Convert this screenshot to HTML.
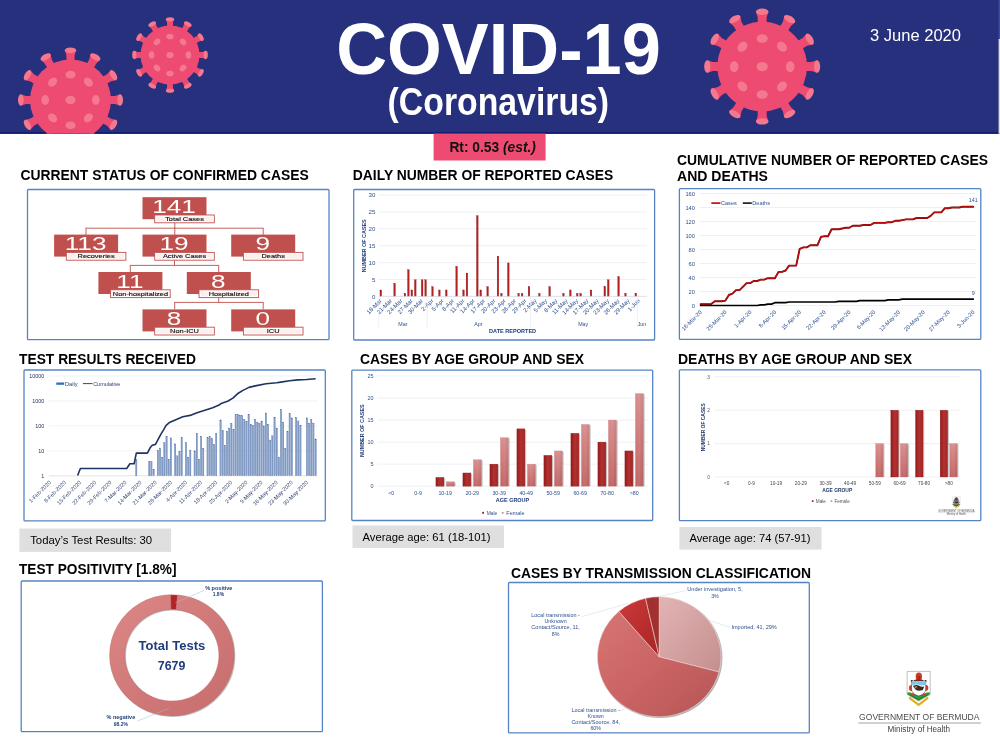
<!DOCTYPE html>
<html lang="en"><head><meta charset="utf-8"><title>COVID-19 (Coronavirus) - 3 June 2020</title>
<style>
html,body{margin:0;padding:0;background:#fff;}
body{width:1000px;height:750px;overflow:hidden;font-family:"Liberation Sans",sans-serif;}
svg{display:block;font-family:"Liberation Sans",sans-serif;}
</style></head><body>
<svg width="1000" height="750" viewBox="0 0 1000 750">
<defs>
<linearGradient id="gm" x1="0" x2="1" y1="0" y2="0"><stop offset="0" stop-color="#941c1c"/><stop offset="0.5" stop-color="#b43030"/><stop offset="1" stop-color="#a02727"/></linearGradient>
<linearGradient id="gf" x1="0" x2="0" y1="0" y2="1"><stop offset="0" stop-color="#d88c8c"/><stop offset="1" stop-color="#c26363"/></linearGradient>
<linearGradient id="gf2" x1="0" x2="1" y1="0" y2="0"><stop offset="0" stop-color="#ffffff" stop-opacity="0"/><stop offset="0.5" stop-color="#ffffff" stop-opacity="0.06"/><stop offset="1" stop-color="#000" stop-opacity="0.06"/></linearGradient>
<linearGradient id="gring" x1="0" x2="1" y1="0" y2="1"><stop offset="0" stop-color="#dc8787"/><stop offset="1" stop-color="#c66c6c"/></linearGradient>
<linearGradient id="gknown" x1="0" x2="1" y1="0" y2="1"><stop offset="0" stop-color="#d67575"/><stop offset="0.5" stop-color="#cb6464"/><stop offset="1" stop-color="#b45656"/></linearGradient>
<linearGradient id="gimp" x1="0" x2="1" y1="0" y2="1"><stop offset="0" stop-color="#e3b4b4"/><stop offset="1" stop-color="#c48e8e"/></linearGradient>
<linearGradient id="gunk" x1="0" x2="1" y1="0" y2="1"><stop offset="0" stop-color="#cc3a3a"/><stop offset="1" stop-color="#a82424"/></linearGradient>
</defs>
<rect x="0.00" y="0.00" width="1000.00" height="133.80" fill="#27307c" stroke="none" stroke-width="1" />
<rect x="0.00" y="132.10" width="1000.00" height="1.70" fill="#121d70" stroke="none" stroke-width="1" />
<rect x="998.60" y="0.00" width="1.40" height="39.00" fill="#3d4c9c" stroke="none" stroke-width="1" />
<rect x="998.60" y="39.00" width="1.40" height="94.80" fill="#dcdde8" stroke="none" stroke-width="1" />
<clipPath id="hclip"><rect x="0" y="0" width="1000" height="133.8"/></clipPath>
<g clip-path="url(#hclip)">
<g transform="translate(70.5,100)">
<g transform="rotate(0)">
<path d="M-4.05,-38.50 L-4.05,-44.55 L-5.67,-49.66 L5.67,-49.66 L4.05,-44.55 L4.05,-38.50Z" fill="#ee4b72"/>
<ellipse cx="0" cy="-49.66" rx="5.67" ry="2.84" fill="#f4798e"/>
</g>
<g transform="rotate(30)">
<path d="M-4.05,-38.50 L-4.05,-44.55 L-5.67,-49.66 L5.67,-49.66 L4.05,-44.55 L4.05,-38.50Z" fill="#ee4b72"/>
<ellipse cx="0" cy="-49.66" rx="5.67" ry="2.84" fill="#f4798e"/>
</g>
<g transform="rotate(60)">
<path d="M-4.05,-38.50 L-4.05,-44.55 L-5.67,-49.66 L5.67,-49.66 L4.05,-44.55 L4.05,-38.50Z" fill="#ee4b72"/>
<ellipse cx="0" cy="-49.66" rx="5.67" ry="2.84" fill="#f4798e"/>
</g>
<g transform="rotate(90)">
<path d="M-4.05,-38.50 L-4.05,-44.55 L-5.67,-49.66 L5.67,-49.66 L4.05,-44.55 L4.05,-38.50Z" fill="#ee4b72"/>
<ellipse cx="0" cy="-49.66" rx="5.67" ry="2.84" fill="#f4798e"/>
</g>
<g transform="rotate(120)">
<path d="M-4.05,-38.50 L-4.05,-44.55 L-5.67,-49.66 L5.67,-49.66 L4.05,-44.55 L4.05,-38.50Z" fill="#ee4b72"/>
<ellipse cx="0" cy="-49.66" rx="5.67" ry="2.84" fill="#f4798e"/>
</g>
<g transform="rotate(150)">
<path d="M-4.05,-38.50 L-4.05,-44.55 L-5.67,-49.66 L5.67,-49.66 L4.05,-44.55 L4.05,-38.50Z" fill="#ee4b72"/>
<ellipse cx="0" cy="-49.66" rx="5.67" ry="2.84" fill="#f4798e"/>
</g>
<g transform="rotate(180)">
<path d="M-4.05,-38.50 L-4.05,-44.55 L-5.67,-49.66 L5.67,-49.66 L4.05,-44.55 L4.05,-38.50Z" fill="#ee4b72"/>
<ellipse cx="0" cy="-49.66" rx="5.67" ry="2.84" fill="#f4798e"/>
</g>
<g transform="rotate(210)">
<path d="M-4.05,-38.50 L-4.05,-44.55 L-5.67,-49.66 L5.67,-49.66 L4.05,-44.55 L4.05,-38.50Z" fill="#ee4b72"/>
<ellipse cx="0" cy="-49.66" rx="5.67" ry="2.84" fill="#f4798e"/>
</g>
<g transform="rotate(240)">
<path d="M-4.05,-38.50 L-4.05,-44.55 L-5.67,-49.66 L5.67,-49.66 L4.05,-44.55 L4.05,-38.50Z" fill="#ee4b72"/>
<ellipse cx="0" cy="-49.66" rx="5.67" ry="2.84" fill="#f4798e"/>
</g>
<g transform="rotate(270)">
<path d="M-4.05,-38.50 L-4.05,-44.55 L-5.67,-49.66 L5.67,-49.66 L4.05,-44.55 L4.05,-38.50Z" fill="#ee4b72"/>
<ellipse cx="0" cy="-49.66" rx="5.67" ry="2.84" fill="#f4798e"/>
</g>
<g transform="rotate(300)">
<path d="M-4.05,-38.50 L-4.05,-44.55 L-5.67,-49.66 L5.67,-49.66 L4.05,-44.55 L4.05,-38.50Z" fill="#ee4b72"/>
<ellipse cx="0" cy="-49.66" rx="5.67" ry="2.84" fill="#f4798e"/>
</g>
<g transform="rotate(330)">
<path d="M-4.05,-38.50 L-4.05,-44.55 L-5.67,-49.66 L5.67,-49.66 L4.05,-44.55 L4.05,-38.50Z" fill="#ee4b72"/>
<ellipse cx="0" cy="-49.66" rx="5.67" ry="2.84" fill="#f4798e"/>
</g>
<circle r="40.5" fill="#ee4b72"/>
<ellipse rx="5.06" ry="4.25" fill="#f4798e"/>
<ellipse transform="rotate(0)" cx="0" cy="-25.31" rx="5.06" ry="3.85" fill="#f4798e"/>
<ellipse transform="rotate(45)" cx="0" cy="-25.31" rx="5.06" ry="3.85" fill="#f4798e"/>
<ellipse transform="rotate(90)" cx="0" cy="-25.31" rx="5.06" ry="3.85" fill="#f4798e"/>
<ellipse transform="rotate(135)" cx="0" cy="-25.31" rx="5.06" ry="3.85" fill="#f4798e"/>
<ellipse transform="rotate(180)" cx="0" cy="-25.31" rx="5.06" ry="3.85" fill="#f4798e"/>
<ellipse transform="rotate(225)" cx="0" cy="-25.31" rx="5.06" ry="3.85" fill="#f4798e"/>
<ellipse transform="rotate(270)" cx="0" cy="-25.31" rx="5.06" ry="3.85" fill="#f4798e"/>
<ellipse transform="rotate(315)" cx="0" cy="-25.31" rx="5.06" ry="3.85" fill="#f4798e"/>
</g>
<g transform="translate(170,55)">
<g transform="rotate(0)">
<path d="M-2.95,-27.50 L-2.95,-32.45 L-4.13,-35.73 L4.13,-35.73 L2.95,-32.45 L2.95,-27.50Z" fill="#ee4b72"/>
<ellipse cx="0" cy="-35.73" rx="4.13" ry="2.07" fill="#f4798e"/>
</g>
<g transform="rotate(30)">
<path d="M-2.95,-27.50 L-2.95,-32.45 L-4.13,-35.73 L4.13,-35.73 L2.95,-32.45 L2.95,-27.50Z" fill="#ee4b72"/>
<ellipse cx="0" cy="-35.73" rx="4.13" ry="2.07" fill="#f4798e"/>
</g>
<g transform="rotate(60)">
<path d="M-2.95,-27.50 L-2.95,-32.45 L-4.13,-35.73 L4.13,-35.73 L2.95,-32.45 L2.95,-27.50Z" fill="#ee4b72"/>
<ellipse cx="0" cy="-35.73" rx="4.13" ry="2.07" fill="#f4798e"/>
</g>
<g transform="rotate(90)">
<path d="M-2.95,-27.50 L-2.95,-32.45 L-4.13,-35.73 L4.13,-35.73 L2.95,-32.45 L2.95,-27.50Z" fill="#ee4b72"/>
<ellipse cx="0" cy="-35.73" rx="4.13" ry="2.07" fill="#f4798e"/>
</g>
<g transform="rotate(120)">
<path d="M-2.95,-27.50 L-2.95,-32.45 L-4.13,-35.73 L4.13,-35.73 L2.95,-32.45 L2.95,-27.50Z" fill="#ee4b72"/>
<ellipse cx="0" cy="-35.73" rx="4.13" ry="2.07" fill="#f4798e"/>
</g>
<g transform="rotate(150)">
<path d="M-2.95,-27.50 L-2.95,-32.45 L-4.13,-35.73 L4.13,-35.73 L2.95,-32.45 L2.95,-27.50Z" fill="#ee4b72"/>
<ellipse cx="0" cy="-35.73" rx="4.13" ry="2.07" fill="#f4798e"/>
</g>
<g transform="rotate(180)">
<path d="M-2.95,-27.50 L-2.95,-32.45 L-4.13,-35.73 L4.13,-35.73 L2.95,-32.45 L2.95,-27.50Z" fill="#ee4b72"/>
<ellipse cx="0" cy="-35.73" rx="4.13" ry="2.07" fill="#f4798e"/>
</g>
<g transform="rotate(210)">
<path d="M-2.95,-27.50 L-2.95,-32.45 L-4.13,-35.73 L4.13,-35.73 L2.95,-32.45 L2.95,-27.50Z" fill="#ee4b72"/>
<ellipse cx="0" cy="-35.73" rx="4.13" ry="2.07" fill="#f4798e"/>
</g>
<g transform="rotate(240)">
<path d="M-2.95,-27.50 L-2.95,-32.45 L-4.13,-35.73 L4.13,-35.73 L2.95,-32.45 L2.95,-27.50Z" fill="#ee4b72"/>
<ellipse cx="0" cy="-35.73" rx="4.13" ry="2.07" fill="#f4798e"/>
</g>
<g transform="rotate(270)">
<path d="M-2.95,-27.50 L-2.95,-32.45 L-4.13,-35.73 L4.13,-35.73 L2.95,-32.45 L2.95,-27.50Z" fill="#ee4b72"/>
<ellipse cx="0" cy="-35.73" rx="4.13" ry="2.07" fill="#f4798e"/>
</g>
<g transform="rotate(300)">
<path d="M-2.95,-27.50 L-2.95,-32.45 L-4.13,-35.73 L4.13,-35.73 L2.95,-32.45 L2.95,-27.50Z" fill="#ee4b72"/>
<ellipse cx="0" cy="-35.73" rx="4.13" ry="2.07" fill="#f4798e"/>
</g>
<g transform="rotate(330)">
<path d="M-2.95,-27.50 L-2.95,-32.45 L-4.13,-35.73 L4.13,-35.73 L2.95,-32.45 L2.95,-27.50Z" fill="#ee4b72"/>
<ellipse cx="0" cy="-35.73" rx="4.13" ry="2.07" fill="#f4798e"/>
</g>
<circle r="29.5" fill="#ee4b72"/>
<ellipse rx="3.69" ry="3.10" fill="#f4798e"/>
<ellipse transform="rotate(0)" cx="0" cy="-18.44" rx="3.69" ry="2.80" fill="#f4798e"/>
<ellipse transform="rotate(45)" cx="0" cy="-18.44" rx="3.69" ry="2.80" fill="#f4798e"/>
<ellipse transform="rotate(90)" cx="0" cy="-18.44" rx="3.69" ry="2.80" fill="#f4798e"/>
<ellipse transform="rotate(135)" cx="0" cy="-18.44" rx="3.69" ry="2.80" fill="#f4798e"/>
<ellipse transform="rotate(180)" cx="0" cy="-18.44" rx="3.69" ry="2.80" fill="#f4798e"/>
<ellipse transform="rotate(225)" cx="0" cy="-18.44" rx="3.69" ry="2.80" fill="#f4798e"/>
<ellipse transform="rotate(270)" cx="0" cy="-18.44" rx="3.69" ry="2.80" fill="#f4798e"/>
<ellipse transform="rotate(315)" cx="0" cy="-18.44" rx="3.69" ry="2.80" fill="#f4798e"/>
</g>
<g transform="translate(762.2,66.6)">
<g transform="rotate(0)">
<path d="M-4.48,-42.80 L-4.48,-49.28 L-6.27,-54.86 L6.27,-54.86 L4.48,-49.28 L4.48,-42.80Z" fill="#ee4b72"/>
<ellipse cx="0" cy="-54.86" rx="6.27" ry="3.14" fill="#f4798e"/>
</g>
<g transform="rotate(30)">
<path d="M-4.48,-42.80 L-4.48,-49.28 L-6.27,-54.86 L6.27,-54.86 L4.48,-49.28 L4.48,-42.80Z" fill="#ee4b72"/>
<ellipse cx="0" cy="-54.86" rx="6.27" ry="3.14" fill="#f4798e"/>
</g>
<g transform="rotate(60)">
<path d="M-4.48,-42.80 L-4.48,-49.28 L-6.27,-54.86 L6.27,-54.86 L4.48,-49.28 L4.48,-42.80Z" fill="#ee4b72"/>
<ellipse cx="0" cy="-54.86" rx="6.27" ry="3.14" fill="#f4798e"/>
</g>
<g transform="rotate(90)">
<path d="M-4.48,-42.80 L-4.48,-49.28 L-6.27,-54.86 L6.27,-54.86 L4.48,-49.28 L4.48,-42.80Z" fill="#ee4b72"/>
<ellipse cx="0" cy="-54.86" rx="6.27" ry="3.14" fill="#f4798e"/>
</g>
<g transform="rotate(120)">
<path d="M-4.48,-42.80 L-4.48,-49.28 L-6.27,-54.86 L6.27,-54.86 L4.48,-49.28 L4.48,-42.80Z" fill="#ee4b72"/>
<ellipse cx="0" cy="-54.86" rx="6.27" ry="3.14" fill="#f4798e"/>
</g>
<g transform="rotate(150)">
<path d="M-4.48,-42.80 L-4.48,-49.28 L-6.27,-54.86 L6.27,-54.86 L4.48,-49.28 L4.48,-42.80Z" fill="#ee4b72"/>
<ellipse cx="0" cy="-54.86" rx="6.27" ry="3.14" fill="#f4798e"/>
</g>
<g transform="rotate(180)">
<path d="M-4.48,-42.80 L-4.48,-49.28 L-6.27,-54.86 L6.27,-54.86 L4.48,-49.28 L4.48,-42.80Z" fill="#ee4b72"/>
<ellipse cx="0" cy="-54.86" rx="6.27" ry="3.14" fill="#f4798e"/>
</g>
<g transform="rotate(210)">
<path d="M-4.48,-42.80 L-4.48,-49.28 L-6.27,-54.86 L6.27,-54.86 L4.48,-49.28 L4.48,-42.80Z" fill="#ee4b72"/>
<ellipse cx="0" cy="-54.86" rx="6.27" ry="3.14" fill="#f4798e"/>
</g>
<g transform="rotate(240)">
<path d="M-4.48,-42.80 L-4.48,-49.28 L-6.27,-54.86 L6.27,-54.86 L4.48,-49.28 L4.48,-42.80Z" fill="#ee4b72"/>
<ellipse cx="0" cy="-54.86" rx="6.27" ry="3.14" fill="#f4798e"/>
</g>
<g transform="rotate(270)">
<path d="M-4.48,-42.80 L-4.48,-49.28 L-6.27,-54.86 L6.27,-54.86 L4.48,-49.28 L4.48,-42.80Z" fill="#ee4b72"/>
<ellipse cx="0" cy="-54.86" rx="6.27" ry="3.14" fill="#f4798e"/>
</g>
<g transform="rotate(300)">
<path d="M-4.48,-42.80 L-4.48,-49.28 L-6.27,-54.86 L6.27,-54.86 L4.48,-49.28 L4.48,-42.80Z" fill="#ee4b72"/>
<ellipse cx="0" cy="-54.86" rx="6.27" ry="3.14" fill="#f4798e"/>
</g>
<g transform="rotate(330)">
<path d="M-4.48,-42.80 L-4.48,-49.28 L-6.27,-54.86 L6.27,-54.86 L4.48,-49.28 L4.48,-42.80Z" fill="#ee4b72"/>
<ellipse cx="0" cy="-54.86" rx="6.27" ry="3.14" fill="#f4798e"/>
</g>
<circle r="44.8" fill="#ee4b72"/>
<ellipse rx="5.60" ry="4.70" fill="#f4798e"/>
<ellipse transform="rotate(0)" cx="0" cy="-28.00" rx="5.60" ry="4.26" fill="#f4798e"/>
<ellipse transform="rotate(45)" cx="0" cy="-28.00" rx="5.60" ry="4.26" fill="#f4798e"/>
<ellipse transform="rotate(90)" cx="0" cy="-28.00" rx="5.60" ry="4.26" fill="#f4798e"/>
<ellipse transform="rotate(135)" cx="0" cy="-28.00" rx="5.60" ry="4.26" fill="#f4798e"/>
<ellipse transform="rotate(180)" cx="0" cy="-28.00" rx="5.60" ry="4.26" fill="#f4798e"/>
<ellipse transform="rotate(225)" cx="0" cy="-28.00" rx="5.60" ry="4.26" fill="#f4798e"/>
<ellipse transform="rotate(270)" cx="0" cy="-28.00" rx="5.60" ry="4.26" fill="#f4798e"/>
<ellipse transform="rotate(315)" cx="0" cy="-28.00" rx="5.60" ry="4.26" fill="#f4798e"/>
</g>
</g>
<text x="336.3" y="73.8" font-size="73" font-weight="bold" fill="#fff" text-anchor="start" textLength="324.6" lengthAdjust="spacingAndGlyphs" >COVID-19</text>
<text x="387.6" y="114.5" font-size="38.5" font-weight="bold" fill="#fff" text-anchor="start" textLength="221.5" lengthAdjust="spacingAndGlyphs" >(Coronavirus)</text>
<text x="915.5" y="41.0" font-size="16.5" font-weight="normal" fill="#fff" text-anchor="middle" textLength="91.0" lengthAdjust="spacingAndGlyphs" >3 June 2020</text>
<rect x="433.60" y="133.60" width="112.00" height="26.90" fill="#ee4b72" stroke="none" stroke-width="1" />
<text x="449.4" y="151.6" font-size="13.8" font-weight="bold" fill="#111" textLength="86.5" lengthAdjust="spacingAndGlyphs">Rt: 0.53 <tspan font-style="italic">(est.)</tspan></text>
<text x="20.4" y="180.3" font-size="13.8" font-weight="bold" fill="#000" text-anchor="start" textLength="288.4" lengthAdjust="spacingAndGlyphs" >CURRENT STATUS OF CONFIRMED CASES</text>
<text x="352.8" y="180.3" font-size="13.8" font-weight="bold" fill="#000" text-anchor="start" textLength="260.5" lengthAdjust="spacingAndGlyphs" >DAILY NUMBER OF REPORTED CASES</text>
<text x="677.0" y="165.0" font-size="13.8" font-weight="bold" fill="#000" text-anchor="start" textLength="311.0" lengthAdjust="spacingAndGlyphs" >CUMULATIVE NUMBER OF REPORTED CASES</text>
<text x="677.0" y="181.0" font-size="13.8" font-weight="bold" fill="#000" text-anchor="start" textLength="91.0" lengthAdjust="spacingAndGlyphs" >AND DEATHS</text>
<text x="19.0" y="363.5" font-size="13.8" font-weight="bold" fill="#000" text-anchor="start" textLength="177.0" lengthAdjust="spacingAndGlyphs" >TEST RESULTS RECEIVED</text>
<text x="360.0" y="363.5" font-size="13.8" font-weight="bold" fill="#000" text-anchor="start" textLength="224.0" lengthAdjust="spacingAndGlyphs" >CASES BY AGE GROUP AND SEX</text>
<text x="678.0" y="363.5" font-size="13.8" font-weight="bold" fill="#000" text-anchor="start" textLength="234.0" lengthAdjust="spacingAndGlyphs" >DEATHS BY AGE GROUP AND SEX</text>
<text x="19.0" y="574.4" font-size="13.8" font-weight="bold" fill="#000" text-anchor="start" textLength="157.5" lengthAdjust="spacingAndGlyphs" >TEST POSITIVITY [1.8%]</text>
<text x="511.0" y="578.0" font-size="13.8" font-weight="bold" fill="#000" text-anchor="start" textLength="300.0" lengthAdjust="spacingAndGlyphs" >CASES BY TRANSMISSION CLASSIFICATION</text>
<rect x="27.50" y="189.50" width="301.50" height="150.20" fill="#fff" stroke="#5484c6" stroke-width="1.3" rx="0.9"/>
<rect x="353.70" y="189.50" width="300.90" height="150.50" fill="#fff" stroke="#5484c6" stroke-width="1.3" rx="0.9"/>
<rect x="679.40" y="188.60" width="301.40" height="150.80" fill="#fff" stroke="#5484c6" stroke-width="1.3" rx="0.9"/>
<rect x="24.00" y="370.00" width="301.30" height="150.80" fill="#fff" stroke="#5484c6" stroke-width="1.3" rx="0.9"/>
<rect x="351.80" y="370.10" width="300.90" height="150.40" fill="#fff" stroke="#5484c6" stroke-width="1.3" rx="0.9"/>
<rect x="679.40" y="369.90" width="301.40" height="150.70" fill="#fff" stroke="#5484c6" stroke-width="1.3" rx="0.9"/>
<rect x="21.20" y="581.00" width="301.20" height="150.70" fill="#fff" stroke="#5484c6" stroke-width="1.3" rx="0.9"/>
<rect x="508.50" y="582.50" width="300.80" height="150.40" fill="#fff" stroke="#5484c6" stroke-width="1.3" rx="0.9"/>
<rect x="19.40" y="528.50" width="151.70" height="23.40" fill="#dfdfdf" stroke="none" stroke-width="1" />
<text x="30.2" y="544.3" font-size="11.4" font-weight="normal" fill="#000" text-anchor="start" textLength="122.0" lengthAdjust="spacingAndGlyphs" >Today’s Test Results: 30</text>
<rect x="352.50" y="525.50" width="151.50" height="22.50" fill="#dfdfdf" stroke="none" stroke-width="1" />
<text x="362.5" y="540.9" font-size="11.4" font-weight="normal" fill="#000" text-anchor="start" textLength="128.0" lengthAdjust="spacingAndGlyphs" >Average age: 61 (18-101)</text>
<rect x="679.40" y="527.00" width="142.20" height="22.60" fill="#dfdfdf" stroke="none" stroke-width="1" />
<text x="689.5" y="542.4" font-size="11.4" font-weight="normal" fill="#000" text-anchor="start" textLength="121.0" lengthAdjust="spacingAndGlyphs" >Average age: 74 (57-91)</text>
<line x1="174.80" y1="222.80" x2="174.80" y2="228.20" stroke="#c0504d" stroke-width="0.9" />
<line x1="86.00" y1="228.20" x2="263.20" y2="228.20" stroke="#c0504d" stroke-width="0.9" />
<line x1="86.00" y1="227.75" x2="86.00" y2="235.20" stroke="#c0504d" stroke-width="0.9" />
<line x1="174.80" y1="227.75" x2="174.80" y2="235.20" stroke="#c0504d" stroke-width="0.9" />
<line x1="263.20" y1="227.75" x2="263.20" y2="235.20" stroke="#c0504d" stroke-width="0.9" />
<line x1="174.50" y1="260.20" x2="174.50" y2="265.40" stroke="#c0504d" stroke-width="0.9" />
<line x1="130.30" y1="265.40" x2="218.70" y2="265.40" stroke="#c0504d" stroke-width="0.9" />
<line x1="130.30" y1="264.95" x2="130.30" y2="272.40" stroke="#c0504d" stroke-width="0.9" />
<line x1="218.70" y1="264.95" x2="218.70" y2="272.40" stroke="#c0504d" stroke-width="0.9" />
<line x1="218.70" y1="297.60" x2="218.70" y2="302.40" stroke="#c0504d" stroke-width="0.9" />
<line x1="174.70" y1="302.40" x2="263.20" y2="302.40" stroke="#c0504d" stroke-width="0.9" />
<line x1="174.70" y1="301.95" x2="174.70" y2="309.40" stroke="#c0504d" stroke-width="0.9" />
<line x1="263.20" y1="301.95" x2="263.20" y2="309.40" stroke="#c0504d" stroke-width="0.9" />
<rect x="142.50" y="197.20" width="64.00" height="22.00" fill="#c0504d" stroke="none" stroke-width="1" />
<text transform="translate(174.0,212.8) scale(1.47,1)" font-size="17.8" fill="#fff" text-anchor="middle">141</text>
<rect x="154.70" y="215.00" width="59.60" height="7.80" fill="#fff" stroke="#c0504d" stroke-width="0.9" />
<rect x="156.50" y="216.50" width="56.00" height="4.80" fill="#fbf0ef" stroke="none" stroke-width="1" />
<text transform="translate(184.5,220.8) scale(1.4,1)" font-size="5.3" fill="#111" text-anchor="middle" stroke="#111" stroke-width="0.12">Total Cases</text>
<rect x="54.10" y="234.60" width="64.00" height="22.00" fill="#c0504d" stroke="none" stroke-width="1" />
<text transform="translate(85.6,250.2) scale(1.47,1)" font-size="17.8" fill="#fff" text-anchor="middle">113</text>
<rect x="66.30" y="252.40" width="59.60" height="7.80" fill="#fff" stroke="#c0504d" stroke-width="0.9" />
<rect x="68.10" y="253.90" width="56.00" height="4.80" fill="#fbf0ef" stroke="none" stroke-width="1" />
<text transform="translate(96.1,258.2) scale(1.4,1)" font-size="5.3" fill="#111" text-anchor="middle" stroke="#111" stroke-width="0.12">Recoveries</text>
<rect x="142.50" y="234.60" width="64.00" height="22.00" fill="#c0504d" stroke="none" stroke-width="1" />
<text transform="translate(174.0,250.2) scale(1.47,1)" font-size="17.8" fill="#fff" text-anchor="middle">19</text>
<rect x="154.70" y="252.40" width="59.60" height="7.80" fill="#fff" stroke="#c0504d" stroke-width="0.9" />
<rect x="156.50" y="253.90" width="56.00" height="4.80" fill="#fbf0ef" stroke="none" stroke-width="1" />
<text transform="translate(184.5,258.2) scale(1.4,1)" font-size="5.3" fill="#111" text-anchor="middle" stroke="#111" stroke-width="0.12">Active Cases</text>
<rect x="231.20" y="234.60" width="64.00" height="22.00" fill="#c0504d" stroke="none" stroke-width="1" />
<text transform="translate(262.7,250.2) scale(1.47,1)" font-size="17.8" fill="#fff" text-anchor="middle">9</text>
<rect x="243.40" y="252.40" width="59.60" height="7.80" fill="#fff" stroke="#c0504d" stroke-width="0.9" />
<rect x="245.20" y="253.90" width="56.00" height="4.80" fill="#fbf0ef" stroke="none" stroke-width="1" />
<text transform="translate(273.2,258.2) scale(1.4,1)" font-size="5.3" fill="#111" text-anchor="middle" stroke="#111" stroke-width="0.12">Deaths</text>
<rect x="98.40" y="272.00" width="64.00" height="22.00" fill="#c0504d" stroke="none" stroke-width="1" />
<text transform="translate(129.9,287.6) scale(1.47,1)" font-size="17.8" fill="#fff" text-anchor="middle">11</text>
<rect x="110.60" y="289.80" width="59.60" height="7.80" fill="#fff" stroke="#c0504d" stroke-width="0.9" />
<rect x="112.40" y="291.30" width="56.00" height="4.80" fill="#fbf0ef" stroke="none" stroke-width="1" />
<text transform="translate(140.4,295.6) scale(1.4,1)" font-size="5.3" fill="#111" text-anchor="middle" stroke="#111" stroke-width="0.12">Non-hospitalized</text>
<rect x="186.80" y="272.00" width="64.00" height="22.00" fill="#c0504d" stroke="none" stroke-width="1" />
<text transform="translate(218.3,287.6) scale(1.47,1)" font-size="17.8" fill="#fff" text-anchor="middle">8</text>
<rect x="199.00" y="289.80" width="59.60" height="7.80" fill="#fff" stroke="#c0504d" stroke-width="0.9" />
<rect x="200.80" y="291.30" width="56.00" height="4.80" fill="#fbf0ef" stroke="none" stroke-width="1" />
<text transform="translate(228.8,295.6) scale(1.4,1)" font-size="5.3" fill="#111" text-anchor="middle" stroke="#111" stroke-width="0.12">Hospitalized</text>
<rect x="142.50" y="309.40" width="64.00" height="22.00" fill="#c0504d" stroke="none" stroke-width="1" />
<text transform="translate(174.0,325.0) scale(1.47,1)" font-size="17.8" fill="#fff" text-anchor="middle">8</text>
<rect x="154.70" y="327.20" width="59.60" height="7.80" fill="#fff" stroke="#c0504d" stroke-width="0.9" />
<rect x="156.50" y="328.70" width="56.00" height="4.80" fill="#fbf0ef" stroke="none" stroke-width="1" />
<text transform="translate(184.5,333.0) scale(1.4,1)" font-size="5.3" fill="#111" text-anchor="middle" stroke="#111" stroke-width="0.12">Non-ICU</text>
<rect x="231.20" y="309.40" width="64.00" height="22.00" fill="#c0504d" stroke="none" stroke-width="1" />
<text transform="translate(262.7,325.0) scale(1.47,1)" font-size="17.8" fill="#fff" text-anchor="middle">0</text>
<rect x="243.40" y="327.20" width="59.60" height="7.80" fill="#fff" stroke="#c0504d" stroke-width="0.9" />
<rect x="245.20" y="328.70" width="56.00" height="4.80" fill="#fbf0ef" stroke="none" stroke-width="1" />
<text transform="translate(273.2,333.0) scale(1.4,1)" font-size="5.3" fill="#111" text-anchor="middle" stroke="#111" stroke-width="0.12">ICU</text>
<line x1="378.80" y1="296.40" x2="646.80" y2="296.40" stroke="#e4eaf4" stroke-width="0.7" />
<text x="375.4" y="298.5" font-size="6.1" font-weight="normal" fill="#2f4f8f" text-anchor="end" >0</text>
<line x1="378.80" y1="279.50" x2="646.80" y2="279.50" stroke="#e4eaf4" stroke-width="0.7" />
<text x="375.4" y="281.6" font-size="6.1" font-weight="normal" fill="#2f4f8f" text-anchor="end" >5</text>
<line x1="378.80" y1="262.60" x2="646.80" y2="262.60" stroke="#e4eaf4" stroke-width="0.7" />
<text x="375.4" y="264.7" font-size="6.1" font-weight="normal" fill="#2f4f8f" text-anchor="end" >10</text>
<line x1="378.80" y1="245.70" x2="646.80" y2="245.70" stroke="#e4eaf4" stroke-width="0.7" />
<text x="375.4" y="247.8" font-size="6.1" font-weight="normal" fill="#2f4f8f" text-anchor="end" >15</text>
<line x1="378.80" y1="228.80" x2="646.80" y2="228.80" stroke="#e4eaf4" stroke-width="0.7" />
<text x="375.4" y="230.9" font-size="6.1" font-weight="normal" fill="#2f4f8f" text-anchor="end" >20</text>
<line x1="378.80" y1="211.90" x2="646.80" y2="211.90" stroke="#e4eaf4" stroke-width="0.7" />
<text x="375.4" y="214.0" font-size="6.1" font-weight="normal" fill="#2f4f8f" text-anchor="end" >25</text>
<line x1="378.80" y1="195.00" x2="646.80" y2="195.00" stroke="#e4eaf4" stroke-width="0.7" />
<text x="375.4" y="197.1" font-size="6.1" font-weight="normal" fill="#2f4f8f" text-anchor="end" >30</text>
<text transform="translate(365.7,245.8) rotate(-90)" font-size="5" fill="#1f3c78" text-anchor="middle" font-weight="bold" textLength="53" lengthAdjust="spacingAndGlyphs">NUMBER OF CASES</text>
<rect x="379.95" y="289.94" width="1.70" height="6.46" fill="#b3201f" stroke="#8e1515" stroke-width="0.25" />
<rect x="393.73" y="283.18" width="1.70" height="13.22" fill="#b3201f" stroke="#8e1515" stroke-width="0.25" />
<rect x="404.07" y="293.32" width="1.70" height="3.08" fill="#b3201f" stroke="#8e1515" stroke-width="0.25" />
<rect x="407.52" y="269.66" width="1.70" height="26.74" fill="#b3201f" stroke="#8e1515" stroke-width="0.25" />
<rect x="410.96" y="289.94" width="1.70" height="6.46" fill="#b3201f" stroke="#8e1515" stroke-width="0.25" />
<rect x="414.41" y="279.80" width="1.70" height="16.60" fill="#b3201f" stroke="#8e1515" stroke-width="0.25" />
<rect x="421.30" y="279.80" width="1.70" height="16.60" fill="#b3201f" stroke="#8e1515" stroke-width="0.25" />
<rect x="424.75" y="279.80" width="1.70" height="16.60" fill="#b3201f" stroke="#8e1515" stroke-width="0.25" />
<rect x="431.64" y="286.56" width="1.70" height="9.84" fill="#b3201f" stroke="#8e1515" stroke-width="0.25" />
<rect x="438.53" y="289.94" width="1.70" height="6.46" fill="#b3201f" stroke="#8e1515" stroke-width="0.25" />
<rect x="445.42" y="289.94" width="1.70" height="6.46" fill="#b3201f" stroke="#8e1515" stroke-width="0.25" />
<rect x="455.76" y="266.28" width="1.70" height="30.12" fill="#b3201f" stroke="#8e1515" stroke-width="0.25" />
<rect x="462.65" y="289.94" width="1.70" height="6.46" fill="#b3201f" stroke="#8e1515" stroke-width="0.25" />
<rect x="466.10" y="273.04" width="1.70" height="23.36" fill="#b3201f" stroke="#8e1515" stroke-width="0.25" />
<rect x="476.44" y="215.58" width="1.70" height="80.82" fill="#b3201f" stroke="#8e1515" stroke-width="0.25" />
<rect x="479.88" y="289.94" width="1.70" height="6.46" fill="#b3201f" stroke="#8e1515" stroke-width="0.25" />
<rect x="486.78" y="286.56" width="1.70" height="9.84" fill="#b3201f" stroke="#8e1515" stroke-width="0.25" />
<rect x="497.11" y="256.14" width="1.70" height="40.26" fill="#b3201f" stroke="#8e1515" stroke-width="0.25" />
<rect x="500.56" y="293.32" width="1.70" height="3.08" fill="#b3201f" stroke="#8e1515" stroke-width="0.25" />
<rect x="507.45" y="262.90" width="1.70" height="33.50" fill="#b3201f" stroke="#8e1515" stroke-width="0.25" />
<rect x="517.79" y="293.32" width="1.70" height="3.08" fill="#b3201f" stroke="#8e1515" stroke-width="0.25" />
<rect x="521.24" y="293.32" width="1.70" height="3.08" fill="#b3201f" stroke="#8e1515" stroke-width="0.25" />
<rect x="528.13" y="286.56" width="1.70" height="9.84" fill="#b3201f" stroke="#8e1515" stroke-width="0.25" />
<rect x="538.47" y="293.32" width="1.70" height="3.08" fill="#b3201f" stroke="#8e1515" stroke-width="0.25" />
<rect x="548.80" y="286.56" width="1.70" height="9.84" fill="#b3201f" stroke="#8e1515" stroke-width="0.25" />
<rect x="562.59" y="293.32" width="1.70" height="3.08" fill="#b3201f" stroke="#8e1515" stroke-width="0.25" />
<rect x="569.48" y="289.94" width="1.70" height="6.46" fill="#b3201f" stroke="#8e1515" stroke-width="0.25" />
<rect x="576.37" y="293.32" width="1.70" height="3.08" fill="#b3201f" stroke="#8e1515" stroke-width="0.25" />
<rect x="579.82" y="293.32" width="1.70" height="3.08" fill="#b3201f" stroke="#8e1515" stroke-width="0.25" />
<rect x="590.16" y="289.94" width="1.70" height="6.46" fill="#b3201f" stroke="#8e1515" stroke-width="0.25" />
<rect x="603.94" y="286.56" width="1.70" height="9.84" fill="#b3201f" stroke="#8e1515" stroke-width="0.25" />
<rect x="607.39" y="279.80" width="1.70" height="16.60" fill="#b3201f" stroke="#8e1515" stroke-width="0.25" />
<rect x="617.72" y="276.42" width="1.70" height="19.98" fill="#b3201f" stroke="#8e1515" stroke-width="0.25" />
<rect x="624.62" y="293.32" width="1.70" height="3.08" fill="#b3201f" stroke="#8e1515" stroke-width="0.25" />
<rect x="634.95" y="293.32" width="1.70" height="3.08" fill="#b3201f" stroke="#8e1515" stroke-width="0.25" />
<text transform="translate(382.1,301.2) rotate(-45) scale(1.0,1)" font-size="5.9" fill="#2f4f8f" text-anchor="end" font-weight="normal">18-Mar</text>
<text transform="translate(392.4,301.2) rotate(-45) scale(1.0,1)" font-size="5.9" fill="#2f4f8f" text-anchor="end" font-weight="normal">21-Mar</text>
<text transform="translate(402.8,301.2) rotate(-45) scale(1.0,1)" font-size="5.9" fill="#2f4f8f" text-anchor="end" font-weight="normal">24-Mar</text>
<text transform="translate(413.1,301.2) rotate(-45) scale(1.0,1)" font-size="5.9" fill="#2f4f8f" text-anchor="end" font-weight="normal">27-Mar</text>
<text transform="translate(423.5,301.2) rotate(-45) scale(1.0,1)" font-size="5.9" fill="#2f4f8f" text-anchor="end" font-weight="normal">30-Mar</text>
<text transform="translate(433.8,301.2) rotate(-45) scale(1.0,1)" font-size="5.9" fill="#2f4f8f" text-anchor="end" font-weight="normal">2-Apr</text>
<text transform="translate(444.1,301.2) rotate(-45) scale(1.0,1)" font-size="5.9" fill="#2f4f8f" text-anchor="end" font-weight="normal">5-Apr</text>
<text transform="translate(454.5,301.2) rotate(-45) scale(1.0,1)" font-size="5.9" fill="#2f4f8f" text-anchor="end" font-weight="normal">8-Apr</text>
<text transform="translate(464.8,301.2) rotate(-45) scale(1.0,1)" font-size="5.9" fill="#2f4f8f" text-anchor="end" font-weight="normal">11-Apr</text>
<text transform="translate(475.1,301.2) rotate(-45) scale(1.0,1)" font-size="5.9" fill="#2f4f8f" text-anchor="end" font-weight="normal">14-Apr</text>
<text transform="translate(485.5,301.2) rotate(-45) scale(1.0,1)" font-size="5.9" fill="#2f4f8f" text-anchor="end" font-weight="normal">17-Apr</text>
<text transform="translate(495.8,301.2) rotate(-45) scale(1.0,1)" font-size="5.9" fill="#2f4f8f" text-anchor="end" font-weight="normal">20-Apr</text>
<text transform="translate(506.2,301.2) rotate(-45) scale(1.0,1)" font-size="5.9" fill="#2f4f8f" text-anchor="end" font-weight="normal">23-Apr</text>
<text transform="translate(516.5,301.2) rotate(-45) scale(1.0,1)" font-size="5.9" fill="#2f4f8f" text-anchor="end" font-weight="normal">26-Apr</text>
<text transform="translate(526.8,301.2) rotate(-45) scale(1.0,1)" font-size="5.9" fill="#2f4f8f" text-anchor="end" font-weight="normal">29-Apr</text>
<text transform="translate(537.2,301.2) rotate(-45) scale(1.0,1)" font-size="5.9" fill="#2f4f8f" text-anchor="end" font-weight="normal">2-May</text>
<text transform="translate(547.5,301.2) rotate(-45) scale(1.0,1)" font-size="5.9" fill="#2f4f8f" text-anchor="end" font-weight="normal">5-May</text>
<text transform="translate(557.8,301.2) rotate(-45) scale(1.0,1)" font-size="5.9" fill="#2f4f8f" text-anchor="end" font-weight="normal">8-May</text>
<text transform="translate(568.2,301.2) rotate(-45) scale(1.0,1)" font-size="5.9" fill="#2f4f8f" text-anchor="end" font-weight="normal">11-May</text>
<text transform="translate(578.5,301.2) rotate(-45) scale(1.0,1)" font-size="5.9" fill="#2f4f8f" text-anchor="end" font-weight="normal">14-May</text>
<text transform="translate(588.9,301.2) rotate(-45) scale(1.0,1)" font-size="5.9" fill="#2f4f8f" text-anchor="end" font-weight="normal">17-May</text>
<text transform="translate(599.2,301.2) rotate(-45) scale(1.0,1)" font-size="5.9" fill="#2f4f8f" text-anchor="end" font-weight="normal">20-May</text>
<text transform="translate(609.5,301.2) rotate(-45) scale(1.0,1)" font-size="5.9" fill="#2f4f8f" text-anchor="end" font-weight="normal">23-May</text>
<text transform="translate(619.9,301.2) rotate(-45) scale(1.0,1)" font-size="5.9" fill="#2f4f8f" text-anchor="end" font-weight="normal">26-May</text>
<text transform="translate(630.2,301.2) rotate(-45) scale(1.0,1)" font-size="5.9" fill="#2f4f8f" text-anchor="end" font-weight="normal">29-May</text>
<text transform="translate(640.5,301.2) rotate(-45) scale(1.0,1)" font-size="5.9" fill="#2f4f8f" text-anchor="end" font-weight="normal">1-Jun</text>
<line x1="378.80" y1="297.00" x2="378.80" y2="327.00" stroke="#e4eaf4" stroke-width="0.7" />
<line x1="427.20" y1="297.00" x2="427.20" y2="327.00" stroke="#e4eaf4" stroke-width="0.7" />
<line x1="530.60" y1="297.00" x2="530.60" y2="327.00" stroke="#e4eaf4" stroke-width="0.7" />
<line x1="637.30" y1="297.00" x2="637.30" y2="327.00" stroke="#e4eaf4" stroke-width="0.7" />
<line x1="378.80" y1="296.40" x2="646.80" y2="296.40" stroke="#d5dceb" stroke-width="0.7" />
<text x="402.9" y="326.0" font-size="5.3" font-weight="normal" fill="#2f4f8f" text-anchor="middle" >Mar</text>
<text x="478.4" y="326.0" font-size="5.3" font-weight="normal" fill="#2f4f8f" text-anchor="middle" >Apr</text>
<text x="583.2" y="326.0" font-size="5.3" font-weight="normal" fill="#2f4f8f" text-anchor="middle" >May</text>
<text x="641.9" y="326.0" font-size="5.3" font-weight="normal" fill="#2f4f8f" text-anchor="middle" >Jun</text>
<text x="512.6" y="333.0" font-size="5" font-weight="bold" fill="#1f3c78" text-anchor="middle" textLength="47.0" lengthAdjust="spacingAndGlyphs" >DATE REPORTED</text>
<line x1="699.50" y1="305.50" x2="975.40" y2="305.50" stroke="#e4eaf4" stroke-width="0.7" />
<text x="694.9" y="307.5" font-size="5.7" font-weight="normal" fill="#2f4f8f" text-anchor="end" >0</text>
<line x1="699.50" y1="291.50" x2="975.40" y2="291.50" stroke="#e4eaf4" stroke-width="0.7" />
<text x="694.9" y="293.5" font-size="5.7" font-weight="normal" fill="#2f4f8f" text-anchor="end" >20</text>
<line x1="699.50" y1="277.50" x2="975.40" y2="277.50" stroke="#e4eaf4" stroke-width="0.7" />
<text x="694.9" y="279.5" font-size="5.7" font-weight="normal" fill="#2f4f8f" text-anchor="end" >40</text>
<line x1="699.50" y1="263.50" x2="975.40" y2="263.50" stroke="#e4eaf4" stroke-width="0.7" />
<text x="694.9" y="265.5" font-size="5.7" font-weight="normal" fill="#2f4f8f" text-anchor="end" >60</text>
<line x1="699.50" y1="249.50" x2="975.40" y2="249.50" stroke="#e4eaf4" stroke-width="0.7" />
<text x="694.9" y="251.5" font-size="5.7" font-weight="normal" fill="#2f4f8f" text-anchor="end" >80</text>
<line x1="699.50" y1="235.50" x2="975.40" y2="235.50" stroke="#e4eaf4" stroke-width="0.7" />
<text x="694.9" y="237.5" font-size="5.7" font-weight="normal" fill="#2f4f8f" text-anchor="end" >100</text>
<line x1="699.50" y1="221.50" x2="975.40" y2="221.50" stroke="#e4eaf4" stroke-width="0.7" />
<text x="694.9" y="223.5" font-size="5.7" font-weight="normal" fill="#2f4f8f" text-anchor="end" >120</text>
<line x1="699.50" y1="207.50" x2="975.40" y2="207.50" stroke="#e4eaf4" stroke-width="0.7" />
<text x="694.9" y="209.5" font-size="5.7" font-weight="normal" fill="#2f4f8f" text-anchor="end" >140</text>
<line x1="699.50" y1="193.50" x2="975.40" y2="193.50" stroke="#e4eaf4" stroke-width="0.7" />
<text x="694.9" y="195.5" font-size="5.7" font-weight="normal" fill="#2f4f8f" text-anchor="end" >160</text>
<text transform="translate(702.3,312.6) rotate(-45) scale(1.0,1)" font-size="5.65" fill="#2f4f8f" text-anchor="end" font-weight="normal">18-Mar-20</text>
<text transform="translate(727.1,312.6) rotate(-45) scale(1.0,1)" font-size="5.65" fill="#2f4f8f" text-anchor="end" font-weight="normal">25-Mar-20</text>
<text transform="translate(751.9,312.6) rotate(-45) scale(1.0,1)" font-size="5.65" fill="#2f4f8f" text-anchor="end" font-weight="normal">1-Apr-20</text>
<text transform="translate(776.6,312.6) rotate(-45) scale(1.0,1)" font-size="5.65" fill="#2f4f8f" text-anchor="end" font-weight="normal">8-Apr-20</text>
<text transform="translate(801.4,312.6) rotate(-45) scale(1.0,1)" font-size="5.65" fill="#2f4f8f" text-anchor="end" font-weight="normal">15-Apr-20</text>
<text transform="translate(826.2,312.6) rotate(-45) scale(1.0,1)" font-size="5.65" fill="#2f4f8f" text-anchor="end" font-weight="normal">22-Apr-20</text>
<text transform="translate(851.0,312.6) rotate(-45) scale(1.0,1)" font-size="5.65" fill="#2f4f8f" text-anchor="end" font-weight="normal">29-Apr-20</text>
<text transform="translate(875.8,312.6) rotate(-45) scale(1.0,1)" font-size="5.65" fill="#2f4f8f" text-anchor="end" font-weight="normal">6-May-20</text>
<text transform="translate(900.5,312.6) rotate(-45) scale(1.0,1)" font-size="5.65" fill="#2f4f8f" text-anchor="end" font-weight="normal">13-May-20</text>
<text transform="translate(925.3,312.6) rotate(-45) scale(1.0,1)" font-size="5.65" fill="#2f4f8f" text-anchor="end" font-weight="normal">20-May-20</text>
<text transform="translate(950.1,312.6) rotate(-45) scale(1.0,1)" font-size="5.65" fill="#2f4f8f" text-anchor="end" font-weight="normal">27-May-20</text>
<text transform="translate(974.9,312.6) rotate(-45) scale(1.0,1)" font-size="5.65" fill="#2f4f8f" text-anchor="end" font-weight="normal">3-Jun-20</text>
<line x1="711.30" y1="203.10" x2="720.40" y2="203.10" stroke="#c00000" stroke-width="1.6" />
<text x="721.0" y="205.0" font-size="5.3" font-weight="normal" fill="#2f4f8f" text-anchor="start" textLength="15.8" lengthAdjust="spacingAndGlyphs" >Cases</text>
<line x1="742.80" y1="203.10" x2="751.80" y2="203.10" stroke="#111" stroke-width="1.6" />
<text x="752.3" y="205.0" font-size="5.3" font-weight="normal" fill="#2f4f8f" text-anchor="start" textLength="17.7" lengthAdjust="spacingAndGlyphs" >Deaths</text>
<polyline fill="none" stroke="#7d0a0a" stroke-width="1.9" stroke-linejoin="round" stroke-linecap="round" points="700.6,304.1 704.1,304.1 707.7,304.1 711.2,304.1 714.8,301.3 718.3,301.3 721.8,301.3 725.4,300.6 728.9,295.0 732.5,293.6 736.0,290.1 739.5,290.1 743.1,286.6 746.6,283.1 750.2,283.1 753.7,281.0 757.2,281.0 760.8,279.6 764.3,279.6 767.9,278.2 771.4,278.2 774.9,278.2 778.5,271.9 782.0,271.9 785.6,270.5 789.1,265.6 792.6,265.6 796.2,265.6 799.7,248.8 803.3,247.4 806.8,247.4 810.3,245.3 813.9,245.3 817.4,245.3 821.0,236.9 824.5,236.2 828.0,236.2 831.6,229.2 835.1,229.2 838.7,229.2 842.2,228.5 845.7,227.8 849.3,227.8 852.8,225.7 856.4,225.7 859.9,225.7 863.4,225.0 867.0,225.0 870.5,225.0 874.1,222.9 877.6,222.9 881.1,222.9 884.7,222.9 888.2,222.2 891.8,222.2 895.3,220.8 898.8,220.8 902.4,220.1 905.9,219.4 909.5,219.4 913.0,219.4 916.5,218.0 920.1,218.0 923.6,218.0 927.2,218.0 930.7,215.9 934.2,212.4 937.8,212.4 941.3,212.4 944.9,208.2 948.4,208.2 951.9,207.5 955.5,207.5 959.0,207.5 962.6,206.8 966.1,206.8 969.6,206.8 973.2,206.8"/>
<polyline fill="none" stroke="#c40d0d" stroke-width="1.1" stroke-linejoin="round" stroke-linecap="round" points="700.6,304.1 704.1,304.1 707.7,304.1 711.2,304.1 714.8,301.3 718.3,301.3 721.8,301.3 725.4,300.6 728.9,295.0 732.5,293.6 736.0,290.1 739.5,290.1 743.1,286.6 746.6,283.1 750.2,283.1 753.7,281.0 757.2,281.0 760.8,279.6 764.3,279.6 767.9,278.2 771.4,278.2 774.9,278.2 778.5,271.9 782.0,271.9 785.6,270.5 789.1,265.6 792.6,265.6 796.2,265.6 799.7,248.8 803.3,247.4 806.8,247.4 810.3,245.3 813.9,245.3 817.4,245.3 821.0,236.9 824.5,236.2 828.0,236.2 831.6,229.2 835.1,229.2 838.7,229.2 842.2,228.5 845.7,227.8 849.3,227.8 852.8,225.7 856.4,225.7 859.9,225.7 863.4,225.0 867.0,225.0 870.5,225.0 874.1,222.9 877.6,222.9 881.1,222.9 884.7,222.9 888.2,222.2 891.8,222.2 895.3,220.8 898.8,220.8 902.4,220.1 905.9,219.4 909.5,219.4 913.0,219.4 916.5,218.0 920.1,218.0 923.6,218.0 927.2,218.0 930.7,215.9 934.2,212.4 937.8,212.4 941.3,212.4 944.9,208.2 948.4,208.2 951.9,207.5 955.5,207.5 959.0,207.5 962.6,206.8 966.1,206.8 969.6,206.8 973.2,206.8"/>
<polyline fill="none" stroke="#000" stroke-width="1.7" stroke-linejoin="round" stroke-linecap="round" points="700.6,305.5 704.1,305.5 707.7,305.5 711.2,305.5 714.8,305.5 718.3,305.5 721.8,305.5 725.4,305.5 728.9,305.5 732.5,305.5 736.0,305.5 739.5,305.5 743.1,305.5 746.6,305.5 750.2,305.5 753.7,305.5 757.2,305.5 760.8,304.8 764.3,304.8 767.9,304.1 771.4,304.1 774.9,302.7 778.5,302.7 782.0,302.7 785.6,302.7 789.1,302.0 792.6,302.0 796.2,302.0 799.7,302.0 803.3,302.0 806.8,302.0 810.3,302.0 813.9,302.0 817.4,302.0 821.0,302.0 824.5,302.0 828.0,302.0 831.6,302.0 835.1,302.0 838.7,301.3 842.2,301.3 845.7,301.3 849.3,301.3 852.8,301.3 856.4,301.3 859.9,300.6 863.4,300.6 867.0,300.6 870.5,300.6 874.1,300.6 877.6,300.6 881.1,300.6 884.7,300.6 888.2,299.9 891.8,299.9 895.3,299.9 898.8,299.9 902.4,299.2 905.9,299.2 909.5,299.2 913.0,299.2 916.5,299.2 920.1,299.2 923.6,299.2 927.2,299.2 930.7,299.2 934.2,299.2 937.8,299.2 941.3,299.2 944.9,299.2 948.4,299.2 951.9,299.2 955.5,299.2 959.0,299.2 962.6,299.2 966.1,299.2 969.6,299.2 973.2,299.2"/>
<text x="973.3" y="202.2" font-size="5.4" font-weight="normal" fill="#2f4f8f" text-anchor="middle" >141</text>
<text x="973.3" y="294.5" font-size="5.4" font-weight="normal" fill="#2f4f8f" text-anchor="middle" >9</text>
<line x1="48.80" y1="475.80" x2="317.50" y2="475.80" stroke="#d9d9d9" stroke-width="0.7" />
<text x="44.3" y="477.7" font-size="5.4" font-weight="normal" fill="#1f2d50" text-anchor="end" >1</text>
<line x1="48.80" y1="450.85" x2="317.50" y2="450.85" stroke="#ececec" stroke-width="0.7" />
<text x="44.3" y="452.8" font-size="5.4" font-weight="normal" fill="#1f2d50" text-anchor="end" >10</text>
<line x1="48.80" y1="425.90" x2="317.50" y2="425.90" stroke="#ececec" stroke-width="0.7" />
<text x="44.3" y="427.8" font-size="5.4" font-weight="normal" fill="#1f2d50" text-anchor="end" >100</text>
<line x1="48.80" y1="400.95" x2="317.50" y2="400.95" stroke="#ececec" stroke-width="0.7" />
<text x="44.3" y="402.9" font-size="5.4" font-weight="normal" fill="#1f2d50" text-anchor="end" >1000</text>
<line x1="48.80" y1="376.00" x2="317.50" y2="376.00" stroke="#ececec" stroke-width="0.7" />
<text x="44.3" y="377.9" font-size="5.4" font-weight="normal" fill="#1f2d50" text-anchor="end" >10000</text>
<text transform="translate(51.3,482.9) rotate(-45) scale(1.0,1)" font-size="5.5" fill="#2b3f6b" text-anchor="end" font-weight="normal">1-Feb-2020</text>
<text transform="translate(66.4,482.9) rotate(-45) scale(1.0,1)" font-size="5.5" fill="#2b3f6b" text-anchor="end" font-weight="normal">8-Feb-2020</text>
<text transform="translate(81.5,482.9) rotate(-45) scale(1.0,1)" font-size="5.5" fill="#2b3f6b" text-anchor="end" font-weight="normal">15-Feb-2020</text>
<text transform="translate(96.7,482.9) rotate(-45) scale(1.0,1)" font-size="5.5" fill="#2b3f6b" text-anchor="end" font-weight="normal">22-Feb-2020</text>
<text transform="translate(111.8,482.9) rotate(-45) scale(1.0,1)" font-size="5.5" fill="#2b3f6b" text-anchor="end" font-weight="normal">29-Feb-2020</text>
<text transform="translate(126.9,482.9) rotate(-45) scale(1.0,1)" font-size="5.5" fill="#2b3f6b" text-anchor="end" font-weight="normal">7-Mar-2020</text>
<text transform="translate(142.0,482.9) rotate(-45) scale(1.0,1)" font-size="5.5" fill="#2b3f6b" text-anchor="end" font-weight="normal">14-Mar-2020</text>
<text transform="translate(157.1,482.9) rotate(-45) scale(1.0,1)" font-size="5.5" fill="#2b3f6b" text-anchor="end" font-weight="normal">21-Mar-2020</text>
<text transform="translate(172.3,482.9) rotate(-45) scale(1.0,1)" font-size="5.5" fill="#2b3f6b" text-anchor="end" font-weight="normal">28-Mar-2020</text>
<text transform="translate(187.4,482.9) rotate(-45) scale(1.0,1)" font-size="5.5" fill="#2b3f6b" text-anchor="end" font-weight="normal">4-Apr-2020</text>
<text transform="translate(202.5,482.9) rotate(-45) scale(1.0,1)" font-size="5.5" fill="#2b3f6b" text-anchor="end" font-weight="normal">11-Apr-2020</text>
<text transform="translate(217.6,482.9) rotate(-45) scale(1.0,1)" font-size="5.5" fill="#2b3f6b" text-anchor="end" font-weight="normal">18-Apr-2020</text>
<text transform="translate(232.7,482.9) rotate(-45) scale(1.0,1)" font-size="5.5" fill="#2b3f6b" text-anchor="end" font-weight="normal">25-Apr-2020</text>
<text transform="translate(247.9,482.9) rotate(-45) scale(1.0,1)" font-size="5.5" fill="#2b3f6b" text-anchor="end" font-weight="normal">2-May-2020</text>
<text transform="translate(263.0,482.9) rotate(-45) scale(1.0,1)" font-size="5.5" fill="#2b3f6b" text-anchor="end" font-weight="normal">9-May-2020</text>
<text transform="translate(278.1,482.9) rotate(-45) scale(1.0,1)" font-size="5.5" fill="#2b3f6b" text-anchor="end" font-weight="normal">16-May-2020</text>
<text transform="translate(293.2,482.9) rotate(-45) scale(1.0,1)" font-size="5.5" fill="#2b3f6b" text-anchor="end" font-weight="normal">23-May-2020</text>
<text transform="translate(308.3,482.9) rotate(-45) scale(1.0,1)" font-size="5.5" fill="#2b3f6b" text-anchor="end" font-weight="normal">30-May-2020</text>
<rect x="56.30" y="382.50" width="7.90" height="2.30" fill="#2f6fc0" stroke="none" stroke-width="1" />
<text x="65.0" y="385.5" font-size="5.3" font-weight="normal" fill="#2b3f6b" text-anchor="start" textLength="12.6" lengthAdjust="spacingAndGlyphs" >Daily</text>
<line x1="82.90" y1="383.60" x2="92.50" y2="383.60" stroke="#1f3461" stroke-width="0.9" />
<text x="93.2" y="385.5" font-size="5.3" font-weight="normal" fill="#2b3f6b" text-anchor="start" textLength="27.2" lengthAdjust="spacingAndGlyphs" >Cumulative</text>
<rect x="135.68" y="459.26" width="1.24" height="16.54" fill="#8ea6cc" stroke="#3f64a3" stroke-width="0.35" />
<rect x="148.64" y="461.62" width="1.24" height="14.18" fill="#8ea6cc" stroke="#3f64a3" stroke-width="0.35" />
<rect x="150.80" y="461.62" width="1.24" height="14.18" fill="#8ea6cc" stroke="#3f64a3" stroke-width="0.35" />
<rect x="152.96" y="469.43" width="1.24" height="6.37" fill="#8ea6cc" stroke="#3f64a3" stroke-width="0.35" />
<rect x="157.28" y="450.12" width="1.24" height="25.68" fill="#8ea6cc" stroke="#3f64a3" stroke-width="0.35" />
<rect x="159.44" y="448.01" width="1.24" height="27.79" fill="#8ea6cc" stroke="#3f64a3" stroke-width="0.35" />
<rect x="161.60" y="457.33" width="1.24" height="18.47" fill="#8ea6cc" stroke="#3f64a3" stroke-width="0.35" />
<rect x="163.76" y="442.81" width="1.24" height="32.99" fill="#8ea6cc" stroke="#3f64a3" stroke-width="0.35" />
<rect x="165.92" y="436.67" width="1.24" height="39.13" fill="#8ea6cc" stroke="#3f64a3" stroke-width="0.35" />
<rect x="168.08" y="459.50" width="1.24" height="16.30" fill="#8ea6cc" stroke="#3f64a3" stroke-width="0.35" />
<rect x="170.24" y="437.91" width="1.24" height="37.89" fill="#8ea6cc" stroke="#3f64a3" stroke-width="0.35" />
<rect x="174.56" y="443.90" width="1.24" height="31.90" fill="#8ea6cc" stroke="#3f64a3" stroke-width="0.35" />
<rect x="176.72" y="455.86" width="1.24" height="19.94" fill="#8ea6cc" stroke="#3f64a3" stroke-width="0.35" />
<rect x="178.88" y="451.75" width="1.24" height="24.05" fill="#8ea6cc" stroke="#3f64a3" stroke-width="0.35" />
<rect x="181.04" y="437.59" width="1.24" height="38.21" fill="#8ea6cc" stroke="#3f64a3" stroke-width="0.35" />
<rect x="185.36" y="442.81" width="1.24" height="32.99" fill="#8ea6cc" stroke="#3f64a3" stroke-width="0.35" />
<rect x="187.52" y="457.13" width="1.24" height="18.67" fill="#8ea6cc" stroke="#3f64a3" stroke-width="0.35" />
<rect x="189.68" y="450.12" width="1.24" height="25.68" fill="#8ea6cc" stroke="#3f64a3" stroke-width="0.35" />
<rect x="194.00" y="450.85" width="1.24" height="24.95" fill="#8ea6cc" stroke="#3f64a3" stroke-width="0.35" />
<rect x="196.16" y="433.41" width="1.24" height="42.39" fill="#8ea6cc" stroke="#3f64a3" stroke-width="0.35" />
<rect x="198.32" y="459.26" width="1.24" height="16.54" fill="#8ea6cc" stroke="#3f64a3" stroke-width="0.35" />
<rect x="200.48" y="436.53" width="1.24" height="39.27" fill="#8ea6cc" stroke="#3f64a3" stroke-width="0.35" />
<rect x="202.64" y="448.18" width="1.24" height="27.62" fill="#8ea6cc" stroke="#3f64a3" stroke-width="0.35" />
<rect x="206.96" y="437.59" width="1.24" height="38.21" fill="#8ea6cc" stroke="#3f64a3" stroke-width="0.35" />
<rect x="209.12" y="436.53" width="1.24" height="39.27" fill="#8ea6cc" stroke="#3f64a3" stroke-width="0.35" />
<rect x="211.28" y="438.59" width="1.24" height="37.21" fill="#8ea6cc" stroke="#3f64a3" stroke-width="0.35" />
<rect x="213.44" y="444.48" width="1.24" height="31.32" fill="#8ea6cc" stroke="#3f64a3" stroke-width="0.35" />
<rect x="215.60" y="433.41" width="1.24" height="42.39" fill="#8ea6cc" stroke="#3f64a3" stroke-width="0.35" />
<rect x="219.92" y="419.96" width="1.24" height="55.84" fill="#8ea6cc" stroke="#3f64a3" stroke-width="0.35" />
<rect x="222.08" y="430.57" width="1.24" height="45.23" fill="#8ea6cc" stroke="#3f64a3" stroke-width="0.35" />
<rect x="224.24" y="445.42" width="1.24" height="30.38" fill="#8ea6cc" stroke="#3f64a3" stroke-width="0.35" />
<rect x="226.40" y="431.26" width="1.24" height="44.54" fill="#8ea6cc" stroke="#3f64a3" stroke-width="0.35" />
<rect x="228.56" y="428.05" width="1.24" height="47.75" fill="#8ea6cc" stroke="#3f64a3" stroke-width="0.35" />
<rect x="230.72" y="423.14" width="1.24" height="52.66" fill="#8ea6cc" stroke="#3f64a3" stroke-width="0.35" />
<rect x="232.88" y="429.46" width="1.24" height="46.34" fill="#8ea6cc" stroke="#3f64a3" stroke-width="0.35" />
<rect x="235.04" y="414.67" width="1.24" height="61.13" fill="#8ea6cc" stroke="#3f64a3" stroke-width="0.35" />
<rect x="237.20" y="414.21" width="1.24" height="61.59" fill="#8ea6cc" stroke="#3f64a3" stroke-width="0.35" />
<rect x="239.36" y="415.10" width="1.24" height="60.70" fill="#8ea6cc" stroke="#3f64a3" stroke-width="0.35" />
<rect x="241.52" y="415.71" width="1.24" height="60.09" fill="#8ea6cc" stroke="#3f64a3" stroke-width="0.35" />
<rect x="243.68" y="419.29" width="1.24" height="56.51" fill="#8ea6cc" stroke="#3f64a3" stroke-width="0.35" />
<rect x="245.84" y="421.43" width="1.24" height="54.37" fill="#8ea6cc" stroke="#3f64a3" stroke-width="0.35" />
<rect x="248.00" y="414.21" width="1.24" height="61.59" fill="#8ea6cc" stroke="#3f64a3" stroke-width="0.35" />
<rect x="250.16" y="424.20" width="1.24" height="51.60" fill="#8ea6cc" stroke="#3f64a3" stroke-width="0.35" />
<rect x="252.32" y="425.27" width="1.24" height="50.53" fill="#8ea6cc" stroke="#3f64a3" stroke-width="0.35" />
<rect x="254.48" y="419.29" width="1.24" height="56.51" fill="#8ea6cc" stroke="#3f64a3" stroke-width="0.35" />
<rect x="256.64" y="422.10" width="1.24" height="53.70" fill="#8ea6cc" stroke="#3f64a3" stroke-width="0.35" />
<rect x="258.80" y="423.14" width="1.24" height="52.66" fill="#8ea6cc" stroke="#3f64a3" stroke-width="0.35" />
<rect x="260.96" y="421.01" width="1.24" height="54.79" fill="#8ea6cc" stroke="#3f64a3" stroke-width="0.35" />
<rect x="263.12" y="425.90" width="1.24" height="49.90" fill="#8ea6cc" stroke="#3f64a3" stroke-width="0.35" />
<rect x="265.28" y="412.96" width="1.24" height="62.84" fill="#8ea6cc" stroke="#3f64a3" stroke-width="0.35" />
<rect x="267.44" y="424.20" width="1.24" height="51.60" fill="#8ea6cc" stroke="#3f64a3" stroke-width="0.35" />
<rect x="269.60" y="440.09" width="1.24" height="35.71" fill="#8ea6cc" stroke="#3f64a3" stroke-width="0.35" />
<rect x="271.76" y="435.83" width="1.24" height="39.97" fill="#8ea6cc" stroke="#3f64a3" stroke-width="0.35" />
<rect x="273.92" y="417.41" width="1.24" height="58.39" fill="#8ea6cc" stroke="#3f64a3" stroke-width="0.35" />
<rect x="276.08" y="428.05" width="1.24" height="47.75" fill="#8ea6cc" stroke="#3f64a3" stroke-width="0.35" />
<rect x="278.24" y="457.53" width="1.24" height="18.27" fill="#8ea6cc" stroke="#3f64a3" stroke-width="0.35" />
<rect x="280.40" y="409.34" width="1.24" height="66.46" fill="#8ea6cc" stroke="#3f64a3" stroke-width="0.35" />
<rect x="282.56" y="422.10" width="1.24" height="53.70" fill="#8ea6cc" stroke="#3f64a3" stroke-width="0.35" />
<rect x="284.72" y="448.18" width="1.24" height="27.62" fill="#8ea6cc" stroke="#3f64a3" stroke-width="0.35" />
<rect x="286.88" y="431.62" width="1.24" height="44.18" fill="#8ea6cc" stroke="#3f64a3" stroke-width="0.35" />
<rect x="289.04" y="413.61" width="1.24" height="62.19" fill="#8ea6cc" stroke="#3f64a3" stroke-width="0.35" />
<rect x="291.20" y="417.86" width="1.24" height="57.94" fill="#8ea6cc" stroke="#3f64a3" stroke-width="0.35" />
<rect x="295.52" y="417.41" width="1.24" height="58.39" fill="#8ea6cc" stroke="#3f64a3" stroke-width="0.35" />
<rect x="297.68" y="421.01" width="1.24" height="54.79" fill="#8ea6cc" stroke="#3f64a3" stroke-width="0.35" />
<rect x="299.84" y="425.69" width="1.24" height="50.11" fill="#8ea6cc" stroke="#3f64a3" stroke-width="0.35" />
<rect x="306.32" y="417.86" width="1.24" height="57.94" fill="#8ea6cc" stroke="#3f64a3" stroke-width="0.35" />
<rect x="308.48" y="423.14" width="1.24" height="52.66" fill="#8ea6cc" stroke="#3f64a3" stroke-width="0.35" />
<rect x="310.64" y="419.29" width="1.24" height="56.51" fill="#8ea6cc" stroke="#3f64a3" stroke-width="0.35" />
<rect x="312.80" y="423.14" width="1.24" height="52.66" fill="#8ea6cc" stroke="#3f64a3" stroke-width="0.35" />
<rect x="314.96" y="438.95" width="1.24" height="36.85" fill="#8ea6cc" stroke="#3f64a3" stroke-width="0.35" />
<polyline fill="none" stroke="#1f3461" stroke-width="1.6" stroke-linejoin="round" points="77.6,475.5 80.4,468.5 126.7,468.5 129.9,463.8 134.1,463.8 136.3,453.1 147.4,453.1 150.1,447.8 152.3,445.2 155.5,444.4 158.0,439.7 160.8,434.3 163.4,430.1 166.1,425.4 169.3,422.6 170.0,422.2 176.4,419.4 182.8,416.8 191.3,415.1 197.7,412.4 204.1,410.4 212.7,407.7 219.1,405.1 221.2,403.4 227.6,401.3 232.9,398.1 238.3,393.2 242.5,390.6 248.9,387.4 255.3,385.9 266.0,383.8 276.7,382.7 280.9,382.1 289.5,380.8 298.0,379.9 306.5,379.5 315.7,378.7"/>
<line x1="377.40" y1="486.20" x2="648.30" y2="486.20" stroke="#e4eaf4" stroke-width="0.7" />
<text x="373.4" y="488.1" font-size="5.4" font-weight="normal" fill="#2f4f8f" text-anchor="end" >0</text>
<line x1="377.40" y1="464.15" x2="648.30" y2="464.15" stroke="#e4eaf4" stroke-width="0.7" />
<text x="373.4" y="466.0" font-size="5.4" font-weight="normal" fill="#2f4f8f" text-anchor="end" >5</text>
<line x1="377.40" y1="442.10" x2="648.30" y2="442.10" stroke="#e4eaf4" stroke-width="0.7" />
<text x="373.4" y="444.0" font-size="5.4" font-weight="normal" fill="#2f4f8f" text-anchor="end" >10</text>
<line x1="377.40" y1="420.05" x2="648.30" y2="420.05" stroke="#e4eaf4" stroke-width="0.7" />
<text x="373.4" y="421.9" font-size="5.4" font-weight="normal" fill="#2f4f8f" text-anchor="end" >15</text>
<line x1="377.40" y1="398.00" x2="648.30" y2="398.00" stroke="#e4eaf4" stroke-width="0.7" />
<text x="373.4" y="399.9" font-size="5.4" font-weight="normal" fill="#2f4f8f" text-anchor="end" >20</text>
<line x1="377.40" y1="375.95" x2="648.30" y2="375.95" stroke="#e4eaf4" stroke-width="0.7" />
<text x="373.4" y="377.8" font-size="5.4" font-weight="normal" fill="#2f4f8f" text-anchor="end" >25</text>
<text transform="translate(363.7,430.7) rotate(-90)" font-size="5" fill="#1f3c78" text-anchor="middle" font-weight="bold" textLength="52.7" lengthAdjust="spacingAndGlyphs">NUMBER OF CASES</text>
<text x="391.2" y="494.9" font-size="5.3" font-weight="normal" fill="#2f4f8f" text-anchor="middle" >&lt;0</text>
<text x="418.2" y="494.9" font-size="5.3" font-weight="normal" fill="#2f4f8f" text-anchor="middle" >0-9</text>
<rect x="443.70" y="478.18" width="1.50" height="8.02" fill="#9a9a9a" stroke="none" stroke-width="1" opacity="0.55"/>
<rect x="435.90" y="477.38" width="8.00" height="8.82" fill="url(#gm)" stroke="#8e1616" stroke-width="0.3" />
<rect x="454.20" y="482.59" width="1.50" height="3.61" fill="#9a9a9a" stroke="none" stroke-width="1" opacity="0.55"/>
<rect x="446.40" y="481.79" width="8.00" height="4.41" fill="url(#gf)" stroke="#c98080" stroke-width="0.3" />
<rect x="446.40" y="481.79" width="8.00" height="4.41" fill="url(#gf2)" stroke="none" stroke-width="1" />
<text x="445.2" y="494.9" font-size="5.3" font-weight="normal" fill="#2f4f8f" text-anchor="middle" >10-19</text>
<rect x="470.70" y="473.77" width="1.50" height="12.43" fill="#9a9a9a" stroke="none" stroke-width="1" opacity="0.55"/>
<rect x="462.90" y="472.97" width="8.00" height="13.23" fill="url(#gm)" stroke="#8e1616" stroke-width="0.3" />
<rect x="481.20" y="460.54" width="1.50" height="25.66" fill="#9a9a9a" stroke="none" stroke-width="1" opacity="0.55"/>
<rect x="473.40" y="459.74" width="8.00" height="26.46" fill="url(#gf)" stroke="#c98080" stroke-width="0.3" />
<rect x="473.40" y="459.74" width="8.00" height="26.46" fill="url(#gf2)" stroke="none" stroke-width="1" />
<text x="472.2" y="494.9" font-size="5.3" font-weight="normal" fill="#2f4f8f" text-anchor="middle" >20-29</text>
<rect x="497.70" y="464.95" width="1.50" height="21.25" fill="#9a9a9a" stroke="none" stroke-width="1" opacity="0.55"/>
<rect x="489.90" y="464.15" width="8.00" height="22.05" fill="url(#gm)" stroke="#8e1616" stroke-width="0.3" />
<rect x="508.20" y="438.49" width="1.50" height="47.71" fill="#9a9a9a" stroke="none" stroke-width="1" opacity="0.55"/>
<rect x="500.40" y="437.69" width="8.00" height="48.51" fill="url(#gf)" stroke="#c98080" stroke-width="0.3" />
<rect x="500.40" y="437.69" width="8.00" height="48.51" fill="url(#gf2)" stroke="none" stroke-width="1" />
<text x="499.2" y="494.9" font-size="5.3" font-weight="normal" fill="#2f4f8f" text-anchor="middle" >30-39</text>
<rect x="524.70" y="429.67" width="1.50" height="56.53" fill="#9a9a9a" stroke="none" stroke-width="1" opacity="0.55"/>
<rect x="516.90" y="428.87" width="8.00" height="57.33" fill="url(#gm)" stroke="#8e1616" stroke-width="0.3" />
<rect x="535.20" y="464.95" width="1.50" height="21.25" fill="#9a9a9a" stroke="none" stroke-width="1" opacity="0.55"/>
<rect x="527.40" y="464.15" width="8.00" height="22.05" fill="url(#gf)" stroke="#c98080" stroke-width="0.3" />
<rect x="527.40" y="464.15" width="8.00" height="22.05" fill="url(#gf2)" stroke="none" stroke-width="1" />
<text x="526.2" y="494.9" font-size="5.3" font-weight="normal" fill="#2f4f8f" text-anchor="middle" >40-49</text>
<rect x="551.70" y="456.13" width="1.50" height="30.07" fill="#9a9a9a" stroke="none" stroke-width="1" opacity="0.55"/>
<rect x="543.90" y="455.33" width="8.00" height="30.87" fill="url(#gm)" stroke="#8e1616" stroke-width="0.3" />
<rect x="562.20" y="451.72" width="1.50" height="34.48" fill="#9a9a9a" stroke="none" stroke-width="1" opacity="0.55"/>
<rect x="554.40" y="450.92" width="8.00" height="35.28" fill="url(#gf)" stroke="#c98080" stroke-width="0.3" />
<rect x="554.40" y="450.92" width="8.00" height="35.28" fill="url(#gf2)" stroke="none" stroke-width="1" />
<text x="553.2" y="494.9" font-size="5.3" font-weight="normal" fill="#2f4f8f" text-anchor="middle" >50-59</text>
<rect x="578.70" y="434.08" width="1.50" height="52.12" fill="#9a9a9a" stroke="none" stroke-width="1" opacity="0.55"/>
<rect x="570.90" y="433.28" width="8.00" height="52.92" fill="url(#gm)" stroke="#8e1616" stroke-width="0.3" />
<rect x="589.20" y="425.26" width="1.50" height="60.94" fill="#9a9a9a" stroke="none" stroke-width="1" opacity="0.55"/>
<rect x="581.40" y="424.46" width="8.00" height="61.74" fill="url(#gf)" stroke="#c98080" stroke-width="0.3" />
<rect x="581.40" y="424.46" width="8.00" height="61.74" fill="url(#gf2)" stroke="none" stroke-width="1" />
<text x="580.2" y="494.9" font-size="5.3" font-weight="normal" fill="#2f4f8f" text-anchor="middle" >60-69</text>
<rect x="605.70" y="442.90" width="1.50" height="43.30" fill="#9a9a9a" stroke="none" stroke-width="1" opacity="0.55"/>
<rect x="597.90" y="442.10" width="8.00" height="44.10" fill="url(#gm)" stroke="#8e1616" stroke-width="0.3" />
<rect x="616.20" y="420.85" width="1.50" height="65.35" fill="#9a9a9a" stroke="none" stroke-width="1" opacity="0.55"/>
<rect x="608.40" y="420.05" width="8.00" height="66.15" fill="url(#gf)" stroke="#c98080" stroke-width="0.3" />
<rect x="608.40" y="420.05" width="8.00" height="66.15" fill="url(#gf2)" stroke="none" stroke-width="1" />
<text x="607.2" y="494.9" font-size="5.3" font-weight="normal" fill="#2f4f8f" text-anchor="middle" >70-80</text>
<rect x="632.70" y="451.72" width="1.50" height="34.48" fill="#9a9a9a" stroke="none" stroke-width="1" opacity="0.55"/>
<rect x="624.90" y="450.92" width="8.00" height="35.28" fill="url(#gm)" stroke="#8e1616" stroke-width="0.3" />
<rect x="643.20" y="394.39" width="1.50" height="91.81" fill="#9a9a9a" stroke="none" stroke-width="1" opacity="0.55"/>
<rect x="635.40" y="393.59" width="8.00" height="92.61" fill="url(#gf)" stroke="#c98080" stroke-width="0.3" />
<rect x="635.40" y="393.59" width="8.00" height="92.61" fill="url(#gf2)" stroke="none" stroke-width="1" />
<text x="634.2" y="494.9" font-size="5.3" font-weight="normal" fill="#2f4f8f" text-anchor="middle" >&gt;80</text>
<text x="512.5" y="502.4" font-size="5" font-weight="bold" fill="#1f3c78" text-anchor="middle" textLength="33.4" lengthAdjust="spacingAndGlyphs" >AGE GROUP</text>
<rect x="482.20" y="511.90" width="1.80" height="1.80" fill="#a81c1c" stroke="none" stroke-width="1" />
<text x="486.7" y="514.7" font-size="5.3" font-weight="normal" fill="#2f4f8f" text-anchor="start" textLength="10.6" lengthAdjust="spacingAndGlyphs" >Male</text>
<rect x="501.80" y="511.90" width="1.80" height="1.80" fill="#d98888" stroke="none" stroke-width="1" />
<text x="506.3" y="514.7" font-size="5.3" font-weight="normal" fill="#2f4f8f" text-anchor="start" textLength="18.3" lengthAdjust="spacingAndGlyphs" >Female</text>
<line x1="714.50" y1="477.00" x2="960.60" y2="477.00" stroke="#e9e9e9" stroke-width="0.7" />
<text x="709.9" y="478.7" font-size="4.8" font-weight="normal" fill="#555" text-anchor="end" >0</text>
<line x1="714.50" y1="443.60" x2="960.60" y2="443.60" stroke="#e9e9e9" stroke-width="0.7" />
<text x="709.9" y="445.3" font-size="4.8" font-weight="normal" fill="#555" text-anchor="end" >1</text>
<line x1="714.50" y1="410.20" x2="960.60" y2="410.20" stroke="#e9e9e9" stroke-width="0.7" />
<text x="709.9" y="411.9" font-size="4.8" font-weight="normal" fill="#555" text-anchor="end" >2</text>
<line x1="714.50" y1="376.80" x2="960.60" y2="376.80" stroke="#e9e9e9" stroke-width="0.7" />
<text x="709.9" y="378.5" font-size="4.8" font-weight="normal" fill="#555" text-anchor="end" >3</text>
<text transform="translate(704.9,427.3) rotate(-90)" font-size="4.6" fill="#1f3864" text-anchor="middle" font-weight="bold" textLength="48" lengthAdjust="spacingAndGlyphs">NUMBER OF CASES</text>
<text x="726.8" y="484.5" font-size="4.7" font-weight="normal" fill="#444" text-anchor="middle" >&lt;0</text>
<text x="751.5" y="484.5" font-size="4.7" font-weight="normal" fill="#444" text-anchor="middle" >0-9</text>
<text x="776.1" y="484.5" font-size="4.7" font-weight="normal" fill="#444" text-anchor="middle" >10-19</text>
<text x="800.8" y="484.5" font-size="4.7" font-weight="normal" fill="#444" text-anchor="middle" >20-29</text>
<text x="825.5" y="484.5" font-size="4.7" font-weight="normal" fill="#444" text-anchor="middle" >30-39</text>
<text x="850.1" y="484.5" font-size="4.7" font-weight="normal" fill="#444" text-anchor="middle" >40-49</text>
<rect x="882.99" y="444.40" width="1.50" height="32.60" fill="#9a9a9a" stroke="none" stroke-width="1" opacity="0.55"/>
<rect x="875.69" y="443.60" width="7.50" height="33.40" fill="url(#gf)" stroke="#c98080" stroke-width="0.3" />
<rect x="875.69" y="443.60" width="7.50" height="33.40" fill="url(#gf2)" stroke="none" stroke-width="1" />
<text x="874.8" y="484.5" font-size="4.7" font-weight="normal" fill="#444" text-anchor="middle" >50-59</text>
<rect x="898.15" y="411.00" width="1.50" height="66.00" fill="#9a9a9a" stroke="none" stroke-width="1" opacity="0.55"/>
<rect x="890.85" y="410.20" width="7.50" height="66.80" fill="url(#gm)" stroke="#8e1616" stroke-width="0.3" />
<rect x="907.65" y="444.40" width="1.50" height="32.60" fill="#9a9a9a" stroke="none" stroke-width="1" opacity="0.55"/>
<rect x="900.35" y="443.60" width="7.50" height="33.40" fill="url(#gf)" stroke="#c98080" stroke-width="0.3" />
<rect x="900.35" y="443.60" width="7.50" height="33.40" fill="url(#gf2)" stroke="none" stroke-width="1" />
<text x="899.5" y="484.5" font-size="4.7" font-weight="normal" fill="#444" text-anchor="middle" >60-69</text>
<rect x="922.81" y="411.00" width="1.50" height="66.00" fill="#9a9a9a" stroke="none" stroke-width="1" opacity="0.55"/>
<rect x="915.51" y="410.20" width="7.50" height="66.80" fill="url(#gm)" stroke="#8e1616" stroke-width="0.3" />
<text x="924.1" y="484.5" font-size="4.7" font-weight="normal" fill="#444" text-anchor="middle" >70-80</text>
<rect x="947.47" y="411.00" width="1.50" height="66.00" fill="#9a9a9a" stroke="none" stroke-width="1" opacity="0.55"/>
<rect x="940.17" y="410.20" width="7.50" height="66.80" fill="url(#gm)" stroke="#8e1616" stroke-width="0.3" />
<rect x="956.97" y="444.40" width="1.50" height="32.60" fill="#9a9a9a" stroke="none" stroke-width="1" opacity="0.55"/>
<rect x="949.67" y="443.60" width="7.50" height="33.40" fill="url(#gf)" stroke="#c98080" stroke-width="0.3" />
<rect x="949.67" y="443.60" width="7.50" height="33.40" fill="url(#gf2)" stroke="none" stroke-width="1" />
<text x="948.8" y="484.5" font-size="4.7" font-weight="normal" fill="#444" text-anchor="middle" >&gt;80</text>
<text x="837.2" y="492.0" font-size="4.7" font-weight="bold" fill="#1f3864" text-anchor="middle" textLength="30.0" lengthAdjust="spacingAndGlyphs" >AGE GROUP</text>
<rect x="811.80" y="500.30" width="1.70" height="1.70" fill="#a81c1c" stroke="none" stroke-width="1" />
<text x="815.8" y="502.8" font-size="4.8" font-weight="normal" fill="#555" text-anchor="start" textLength="10.2" lengthAdjust="spacingAndGlyphs" >Male</text>
<rect x="830.60" y="500.30" width="1.70" height="1.70" fill="#d98888" stroke="none" stroke-width="1" />
<text x="834.4" y="502.8" font-size="4.8" font-weight="normal" fill="#555" text-anchor="start" textLength="15.4" lengthAdjust="spacingAndGlyphs" >Female</text>
<g transform="translate(956.3,496.8) scale(0.34)">
<path d="M-11.55,0 H11.55 V23 L0,29.8 L-11.55,23Z" fill="#fff" stroke="#8f8f8f" stroke-width="0.55" stroke-linejoin="round"/>
<path d="M-11.2,21 Q-8,20.2 -5.5,22.5 Q0,21 5.5,22.5 Q8,20.2 11.2,21 V23 L0,29.4 L-11.2,23Z" fill="#2f9a3c"/>
<path d="M-9,23.2 L0,28.4 L9,23.2" fill="none" stroke="#1c6b2a" stroke-width="0.8"/>
<path d="M-9.3,26.4 L0,33.4 L9.3,26.4" fill="none" stroke="#e2b01c" stroke-width="2.3" stroke-linejoin="miter"/>
<circle cx="-8.6" cy="26.6" r="1.1" fill="#f3a224"/><circle cx="8.6" cy="26.6" r="1.1" fill="#f3a224"/>
<ellipse cx="0.2" cy="5.4" rx="3.2" ry="4.2" fill="#c83f28"/>
<ellipse cx="0.2" cy="6.4" rx="1.5" ry="2.2" fill="#a52d1c"/>
<path d="M-4.5,8.5 Q0,7 4.5,8.5 L6.5,12 L-6.5,12Z" fill="#8a2a1c"/>
<ellipse cx="-7.4" cy="16.6" rx="2.3" ry="2.9" fill="#c83f28"/><ellipse cx="7.4" cy="16.4" rx="2.3" ry="2.9" fill="#c83f28"/>
<ellipse cx="-5.2" cy="23.2" rx="2.2" ry="1.6" fill="#c9452c"/><ellipse cx="4.8" cy="23.2" rx="2.2" ry="1.6" fill="#c9452c"/>
<circle cx="-6.9" cy="9.6" r="1.0" fill="#3a1a12"/><circle cx="6.9" cy="9.6" r="1.0" fill="#3a1a12"/>
<path d="M-7.1,9.6 H7.1 V17.6 Q7.1,22.6 0,24.6 Q-7.1,22.6 -7.1,17.6Z" fill="#fff" stroke="#2a2a2a" stroke-width="0.5"/>
<path d="M-6.8,9.9 H6.8 V13.6 Q3,14.6 0,13.4 Q-3,12.6 -6.8,13.9Z" fill="#7cc6f0"/>
<path d="M-5.8,14.6 Q-2,12.6 0.5,14.4 Q3,16 5.6,15 L4.2,18.6 Q0,20 -3,18.4Z" fill="#3c2a22"/>
<path d="M-4.6,15.4 L-1.4,14.6 L-2.6,17.4Z" fill="#b98a4a"/>
</g>
<ellipse cx="956.3" cy="501.8" rx="2.5" ry="4.2" fill="#2a1a14" opacity="0.5"/>
<text x="956.3" y="511.7" font-size="2.9" font-weight="normal" fill="#555" text-anchor="middle" textLength="36.3" lengthAdjust="spacingAndGlyphs" >GOVERNMENT OF BERMUDA</text>
<line x1="937.80" y1="512.70" x2="974.80" y2="512.70" stroke="#999" stroke-width="0.3" />
<text x="956.3" y="515.4" font-size="2.6" font-weight="normal" fill="#555" text-anchor="middle" textLength="19.2" lengthAdjust="spacingAndGlyphs" >Ministry of Health</text>
<g transform="translate(171.9,655.3) scale(1.028,1)">
<circle cx="0.9" cy="0.8" r="53.2" fill="none" stroke="#666" stroke-width="15.200000000000005" opacity="0.4"/>
<path d="M5.49,-60.35 A60.6,60.6 0 1 1 -1.37,-60.58 L-1.04,-45.79 A45.8,45.8 0 1 0 4.15,-45.61Z" fill="url(#gring)" stroke="#c46a6a" stroke-width="0.5"/>
<path d="M-1.37,-60.58 A60.6,60.6 0 0 1 5.49,-60.35 L4.15,-45.61 A45.8,45.8 0 0 0 -1.04,-45.79Z" fill="#b52222" stroke="#e9b0b0" stroke-width="0.3"/>
</g>
<line x1="175.30" y1="602.70" x2="204.10" y2="590.40" stroke="#a9b9d3" stroke-width="0.5" />
<line x1="137.40" y1="721.10" x2="168.90" y2="708.30" stroke="#a9b9d3" stroke-width="0.5" />
<text x="218.8" y="589.6" font-size="5" font-weight="bold" fill="#1f3c78" text-anchor="middle" textLength="27.3" lengthAdjust="spacingAndGlyphs" >% positive</text>
<text x="218.4" y="595.6" font-size="5" font-weight="bold" fill="#1f3c78" text-anchor="middle" >1.8%</text>
<text x="120.9" y="719.3" font-size="5" font-weight="bold" fill="#1f3c78" text-anchor="middle" textLength="28.6" lengthAdjust="spacingAndGlyphs" >% negative</text>
<text x="120.9" y="726.1" font-size="5" font-weight="bold" fill="#1f3c78" text-anchor="middle" >98.2%</text>
<text x="171.9" y="649.7" font-size="13.2" font-weight="bold" fill="#1f3d7a" text-anchor="middle" textLength="66.6" lengthAdjust="spacingAndGlyphs" >Total Tests</text>
<text x="171.6" y="669.9" font-size="13.2" font-weight="bold" fill="#1f3d7a" text-anchor="middle" textLength="27.6" lengthAdjust="spacingAndGlyphs" >7679</text>
<g transform="translate(659.2,656.8) scale(1.03,1)">
<circle cx="1.0" cy="0.9" r="60.4" fill="#666" opacity="0.5"/>
<path d="M0.00,0.00 L0.00,-60.00 A60.0,60.0 0 0 1 58.04,15.21Z" fill="url(#gimp)" stroke="#f3dede" stroke-width="0.55" stroke-linejoin="round"/>
<path d="M0.00,0.00 L58.04,15.21 A60.0,60.0 0 1 1 -39.25,-45.38Z" fill="url(#gknown)" stroke="#f3dede" stroke-width="0.55" stroke-linejoin="round"/>
<path d="M0.00,0.00 L-39.25,-45.38 A60.0,60.0 0 0 1 -13.26,-58.52Z" fill="url(#gunk)" stroke="#f3dede" stroke-width="0.55" stroke-linejoin="round"/>
<path d="M0.00,0.00 L-13.26,-58.52 A60.0,60.0 0 0 1 -0.00,-60.00Z" fill="#a33030" stroke="#f3dede" stroke-width="0.55" stroke-linejoin="round"/>
</g>
<line x1="686.60" y1="590.40" x2="658.90" y2="596.60" stroke="#c9d6ea" stroke-width="0.5" />
<line x1="730.30" y1="627.30" x2="709.00" y2="620.40" stroke="#c9d6ea" stroke-width="0.5" />
<line x1="581.80" y1="616.60" x2="628.00" y2="603.50" stroke="#c9d6ea" stroke-width="0.5" />
<line x1="620.20" y1="710.50" x2="625.50" y2="708.60" stroke="#c9d6ea" stroke-width="0.5" />
<text x="715.0" y="591.4" font-size="5.3" font-weight="normal" fill="#2f4f8f" text-anchor="middle" textLength="55.5" lengthAdjust="spacingAndGlyphs" >Under investigation, 5,</text>
<text x="715.0" y="597.5" font-size="5.3" font-weight="normal" fill="#2f4f8f" text-anchor="middle" >3%</text>
<text x="754.1" y="628.5" font-size="5.3" font-weight="normal" fill="#2f4f8f" text-anchor="middle" textLength="45.4" lengthAdjust="spacingAndGlyphs" >Imported, 41, 29%</text>
<text x="555.6" y="617.0" font-size="5.3" font-weight="normal" fill="#2f4f8f" text-anchor="middle" textLength="48.6" lengthAdjust="spacingAndGlyphs" >Local transmission -</text>
<text x="555.6" y="623.1" font-size="5.3" font-weight="normal" fill="#2f4f8f" text-anchor="middle" >Unknown</text>
<text x="555.6" y="629.3" font-size="5.3" font-weight="normal" fill="#2f4f8f" text-anchor="middle" textLength="48.6" lengthAdjust="spacingAndGlyphs" >Contact/Source, 11,</text>
<text x="555.6" y="635.5" font-size="5.3" font-weight="normal" fill="#2f4f8f" text-anchor="middle" >8%</text>
<text x="595.7" y="711.7" font-size="5.3" font-weight="normal" fill="#2f4f8f" text-anchor="middle" textLength="48.6" lengthAdjust="spacingAndGlyphs" >Local transmission -</text>
<text x="595.7" y="717.9" font-size="5.3" font-weight="normal" fill="#2f4f8f" text-anchor="middle" >Known</text>
<text x="595.7" y="724.0" font-size="5.3" font-weight="normal" fill="#2f4f8f" text-anchor="middle" textLength="48.6" lengthAdjust="spacingAndGlyphs" >Contact/Source, 84,</text>
<text x="595.7" y="730.2" font-size="5.3" font-weight="normal" fill="#2f4f8f" text-anchor="middle" >60%</text>
<g transform="translate(918.65,671.4) scale(1.0)">
<path d="M-11.55,0 H11.55 V23 L0,29.8 L-11.55,23Z" fill="#fff" stroke="#8f8f8f" stroke-width="0.55" stroke-linejoin="round"/>
<path d="M-11.2,21 Q-8,20.2 -5.5,22.5 Q0,21 5.5,22.5 Q8,20.2 11.2,21 V23 L0,29.4 L-11.2,23Z" fill="#2f9a3c"/>
<path d="M-9,23.2 L0,28.4 L9,23.2" fill="none" stroke="#1c6b2a" stroke-width="0.8"/>
<path d="M-9.3,26.4 L0,33.4 L9.3,26.4" fill="none" stroke="#e2b01c" stroke-width="2.3" stroke-linejoin="miter"/>
<circle cx="-8.6" cy="26.6" r="1.1" fill="#f3a224"/><circle cx="8.6" cy="26.6" r="1.1" fill="#f3a224"/>
<ellipse cx="0.2" cy="5.4" rx="3.2" ry="4.2" fill="#c83f28"/>
<ellipse cx="0.2" cy="6.4" rx="1.5" ry="2.2" fill="#a52d1c"/>
<path d="M-4.5,8.5 Q0,7 4.5,8.5 L6.5,12 L-6.5,12Z" fill="#8a2a1c"/>
<ellipse cx="-7.4" cy="16.6" rx="2.3" ry="2.9" fill="#c83f28"/><ellipse cx="7.4" cy="16.4" rx="2.3" ry="2.9" fill="#c83f28"/>
<ellipse cx="-5.2" cy="23.2" rx="2.2" ry="1.6" fill="#c9452c"/><ellipse cx="4.8" cy="23.2" rx="2.2" ry="1.6" fill="#c9452c"/>
<circle cx="-6.9" cy="9.6" r="1.0" fill="#3a1a12"/><circle cx="6.9" cy="9.6" r="1.0" fill="#3a1a12"/>
<path d="M-7.1,9.6 H7.1 V17.6 Q7.1,22.6 0,24.6 Q-7.1,22.6 -7.1,17.6Z" fill="#fff" stroke="#2a2a2a" stroke-width="0.5"/>
<path d="M-6.8,9.9 H6.8 V13.6 Q3,14.6 0,13.4 Q-3,12.6 -6.8,13.9Z" fill="#7cc6f0"/>
<path d="M-5.8,14.6 Q-2,12.6 0.5,14.4 Q3,16 5.6,15 L4.2,18.6 Q0,20 -3,18.4Z" fill="#3c2a22"/>
<path d="M-4.6,15.4 L-1.4,14.6 L-2.6,17.4Z" fill="#b98a4a"/>
</g>
<text x="859.1" y="719.5" font-size="9.4" font-weight="normal" fill="#4d4d4d" text-anchor="start" textLength="120.4" lengthAdjust="spacingAndGlyphs" >GOVERNMENT OF BERMUDA</text>
<line x1="858.40" y1="723.00" x2="980.90" y2="723.00" stroke="#8c8c8c" stroke-width="0.8" />
<text x="887.5" y="731.8" font-size="8.4" font-weight="normal" fill="#444" text-anchor="start" textLength="62.6" lengthAdjust="spacingAndGlyphs" >Ministry of Health</text>
</svg>
</body></html>
